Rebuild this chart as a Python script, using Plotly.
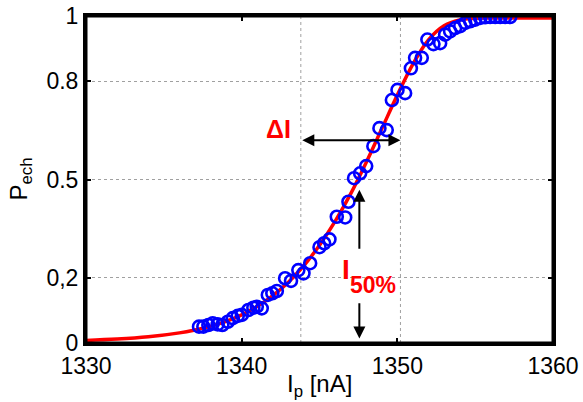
import plotly.graph_objects as go

# Measured data points (I_p in nA, switching probability)
ip_data = [1337.26, 1337.54, 1337.86, 1338.14, 1338.46, 1338.76, 1339.11, 1339.43, 1339.75, 1340.01,
           1340.43, 1340.75, 1340.97, 1341.29, 1341.68, 1341.97, 1342.26, 1342.79, 1343.17, 1343.64,
           1343.97, 1344.40, 1345.00, 1345.30, 1345.64, 1346.11, 1346.65, 1346.86, 1347.22, 1347.61,
           1348.00, 1348.46, 1348.85, 1349.32, 1349.65, 1350.01, 1350.50, 1350.87, 1351.14, 1351.57,
           1351.93, 1352.32, 1352.75, 1353.07, 1353.39, 1353.71, 1354.04, 1354.36, 1354.68, 1355.00,
           1355.32, 1355.64, 1355.96, 1356.29, 1356.61, 1356.93, 1357.25]
p_data = [0.050, 0.050, 0.055, 0.060, 0.057, 0.055, 0.065, 0.076, 0.083, 0.086,
          0.101, 0.108, 0.111, 0.106, 0.147, 0.152, 0.159, 0.198, 0.190, 0.223,
          0.213, 0.244, 0.293, 0.305, 0.317, 0.386, 0.384, 0.432, 0.504, 0.519,
          0.541, 0.602, 0.657, 0.651, 0.743, 0.774, 0.764, 0.840, 0.872, 0.872,
          0.928, 0.914, 0.917, 0.943, 0.953, 0.963, 0.969, 0.979, 0.984, 0.989,
          0.994, 0.996, 0.997, 0.997, 0.997, 0.997, 0.997]

# Fitted curve
ip_fit = [1330, 1332, 1334, 1336, 1337, 1338, 1339, 1340, 1341, 1342, 1343, 1344, 1345, 1346,
          1347, 1348, 1349, 1350, 1351, 1352, 1353, 1354, 1355, 1356, 1360]
p_fit = [0.008, 0.012, 0.019, 0.031, 0.040, 0.051, 0.066, 0.086, 0.112, 0.145, 0.186, 0.237,
         0.299, 0.372, 0.456, 0.552, 0.655, 0.758, 0.853, 0.927, 0.970, 0.988, 0.993, 0.994, 0.994]

x_ticks = [1330, 1340, 1350, 1360]
y_ticks = [0, 0.2, 0.5, 0.8, 1]
y_ticklabels = ["0", "0,2", "0.5", "0.8", "1"]

delta_i_bounds = [1343.8, 1350.2]
delta_i_level = 0.62
i50_x = 1347.56
i50_up = [0.284, 0.469]
i50_down = [0.126, 0.014]

FONT = "Liberation Sans, Arial, sans-serif"

fig = go.Figure()
fig.add_trace(go.Scatter(x=ip_fit, y=p_fit, mode="lines", line=dict(color="red", width=3.5, shape="spline"),
                         showlegend=False, hoverinfo="skip"))
fig.add_trace(go.Scatter(x=ip_data, y=p_data, mode="markers",
                         marker=dict(symbol="circle-open", size=12, color="blue", line=dict(color="blue", width=2.6)),
                         showlegend=False))

# vertical dotted grid lines marking Delta I
for xv in delta_i_bounds:
    fig.add_shape(type="line", xref="x", yref="y", x0=xv, x1=xv, y0=0, y1=1,
                  line=dict(color="#a0a0a0", width=1, dash="dot"), layer="below")

# axes frame
fig.add_shape(type="rect", xref="paper", yref="paper", x0=0, x1=1, y0=0, y1=1,
              line=dict(color="black", width=3), fillcolor="rgba(0,0,0,0)", layer="above")

# Delta I double arrow
fig.add_annotation(x=delta_i_bounds[1], y=delta_i_level, ax=delta_i_bounds[0], ay=delta_i_level,
                   xref="x", yref="y", axref="x", ayref="y", text="", showarrow=True,
                   arrowhead=2, arrowside="end+start", arrowsize=1.2, arrowwidth=2, arrowcolor="black")
fig.add_annotation(x=1343.3, y=0.655, xref="x", yref="y", text="<b>ΔI</b>", showarrow=False,
                   font=dict(family=FONT, size=25, color="red"), xanchor="right", yanchor="middle")

# I50% arrows
fig.add_annotation(x=i50_x, y=i50_up[1], ax=i50_x, ay=i50_up[0], xref="x", yref="y", axref="x", ayref="y",
                   text="", showarrow=True, arrowhead=2, arrowsize=1.2, arrowwidth=2, arrowcolor="black")
fig.add_annotation(x=i50_x, y=i50_down[1], ax=i50_x, ay=i50_down[0], xref="x", yref="y", axref="x", ayref="y",
                   text="", showarrow=True, arrowhead=2, arrowsize=1.2, arrowwidth=2, arrowcolor="black")
fig.add_annotation(x=1346.7, y=0.225, xref="x", yref="y", text="<b>I</b>", showarrow=False,
                   font=dict(family=FONT, size=28, color="red"), xanchor="center", yanchor="middle")
fig.add_annotation(x=1346.85, y=0.178, xref="x", yref="y", text="<b>50%</b>", showarrow=False,
                   font=dict(family=FONT, size=23, color="red"), xanchor="left", yanchor="middle")

# axis titles
fig.add_annotation(x=0.5, y=0, xref="paper", yref="paper", text="I<sub>p</sub> [nA]", showarrow=False,
                   font=dict(family=FONT, size=24, color="black"), xanchor="center", yanchor="top", yshift=-25)
fig.add_annotation(x=0, y=0.5, xref="paper", yref="paper", text="P<sub>ech</sub>", showarrow=False,
                   textangle=-90, font=dict(family=FONT, size=24, color="black"),
                   xanchor="center", yanchor="middle", xshift=-66)

fig.update_layout(
    width=583, height=402,
    margin=dict(l=86, r=30, t=16, b=59, autoexpand=False),
    paper_bgcolor="white", plot_bgcolor="white",
    font=dict(family=FONT, size=23, color="black"),
    xaxis=dict(range=[1330, 1360], tickvals=x_ticks, ticktext=[str(v) for v in x_ticks],
               ticks="inside", ticklen=5, tickwidth=2, tickcolor="black",
               showline=True, linecolor="black", linewidth=3, mirror="ticks",
               showgrid=False, zeroline=False, automargin=False),
    yaxis=dict(range=[0, 1], tickvals=y_ticks, ticktext=y_ticklabels,
               ticks="inside", ticklen=5, tickwidth=2, tickcolor="black",
               showline=True, linecolor="black", linewidth=3, mirror="ticks",
               showgrid=True, gridcolor="#a0a0a0", griddash="dot", gridwidth=1, zeroline=False,
               automargin=False),
)

fig.write_html("out.html", config={"displayModeBar": False},
               post_script="document.body.style.margin='0';")
